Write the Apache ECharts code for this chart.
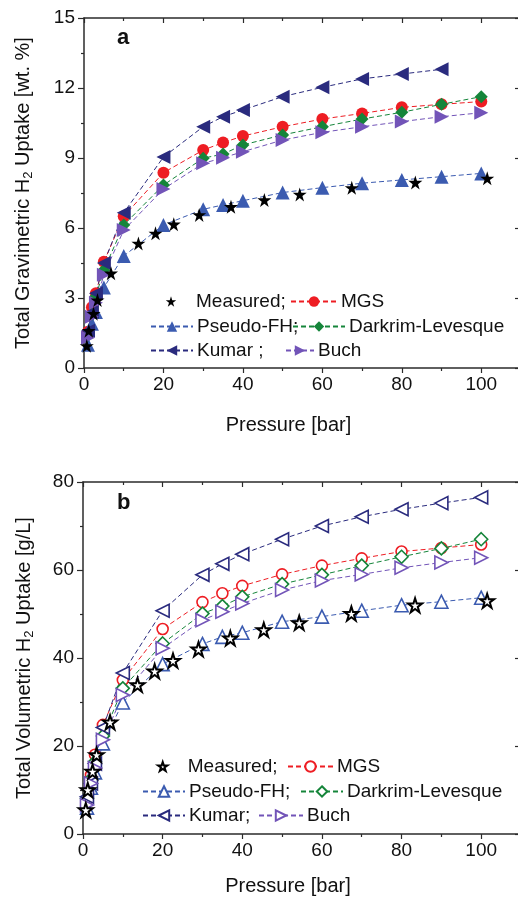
<!DOCTYPE html>
<html>
<head>
<meta charset="utf-8">
<script src="https://cdn.jsdelivr.net/npm/echarts@6/dist/echarts.min.js"></script>
<style>
html,body{margin:0;padding:0;background:#fff;}
#chart{width:518px;height:897px;}
</style>
</head>
<body>
<div id="chart"></div>
<script>
// ---------- data ----------
const pressureMeasured = [0.7, 1.2, 2.4, 3.4, 6.8, 13.7, 18, 22.6, 29, 37, 45.4, 54.3, 67.4, 83.4, 101.5];
const pressureModel = [1, 2, 3, 5, 10, 20, 30, 35, 40, 50, 60, 70, 80, 90, 100];
const pressureKumarA = [1, 2, 3, 5, 10, 20, 30, 35, 40, 50, 60, 70, 80, 90];

// panel a: gravimetric uptake [wt. %]
const measuredA = [0.95, 1.6, 2.33, 2.91, 4.06, 5.34, 5.77, 6.16, 6.56, 6.91, 7.2, 7.44, 7.72, 7.95, 8.13];
const mgsA = [1.55, 2.6, 3.2, 4.55, 6.5, 8.37, 9.34, 9.66, 9.94, 10.34, 10.67, 10.91, 11.17, 11.3, 11.42];
const pseudoFHA = [1.0, 1.9, 2.4, 3.45, 4.8, 6.13, 6.8, 6.99, 7.17, 7.52, 7.73, 7.92, 8.06, 8.2, 8.34];
const darkrimA = [1.4, 2.3, 3.08, 4.2, 6.13, 7.84, 8.99, 9.17, 9.56, 9.99, 10.34, 10.67, 10.96, 11.3, 11.63];
const kumarA = [1.6, 2.4, 3.2, 4.5, 6.65, 9.04, 10.34, 10.77, 11.06, 11.63, 12.03, 12.39, 12.6, 12.8];
const buchA = [1.3, 2.2, 2.8, 4.0, 5.91, 7.67, 8.77, 9.01, 9.27, 9.77, 10.1, 10.34, 10.56, 10.77, 10.94];

// panel b: volumetric uptake [g/L]
const measuredB = [5.45, 10.0, 14.2, 18.0, 25.4, 33.9, 37.0, 39.4, 42.0, 44.5, 46.4, 48.0, 50.1, 52.0, 53.0];
const mgsB = [7.7, 13.4, 18.0, 24.8, 35.0, 46.6, 52.7, 54.7, 56.4, 59.0, 61.0, 62.65, 64.2, 65.0, 65.8];
const pseudoFHB = [6.0, 10.5, 14.0, 20.6, 29.9, 38.6, 43.2, 44.8, 45.75, 48.25, 49.4, 50.75, 52.0, 52.8, 53.7];
const darkrimB = [8.1, 12.5, 16.4, 22.3, 33.1, 43.3, 50.1, 51.8, 53.9, 56.8, 58.9, 61.0, 63.0, 64.9, 67.0];
const kumarB = [8.5, 11.5, 16.0, 24.2, 36.6, 50.75, 58.9, 61.4, 63.6, 67.0, 70.0, 72.1, 73.8, 75.2, 76.5];
const buchB = [6.6, 11.5, 15.0, 21.4, 31.6, 42.2, 48.6, 50.5, 52.4, 55.45, 57.6, 59.0, 60.5, 61.7, 62.8];

// axis ticks
const xTicks = [0, 20, 40, 60, 80, 100];
const yTicksA = [0, 3, 6, 9, 12, 15];
const yTicksB = [0, 20, 40, 60, 80];

// ---------- styling ----------
const FONT = 'Liberation Sans, Arial, Helvetica, sans-serif';
const AX = '#2b2b2b';
const C = {mgs:'#ee1d23', pfh:'#3b5bb0', dark:'#15853a', kumar:'#2a2b7e', buch:'#7254b8', meas:'#000000'};
const STAR = 'path://M50,0 L61.2,34.5 L97.6,34.5 L68.2,55.9 L79.4,90.5 L50,69.1 L20.6,90.5 L31.8,55.9 L2.4,34.5 L38.8,34.5 Z';
const TRI_L = 'path://M0,50 L100,0 L100,100 Z';
const TRI_R = 'path://M100,50 L0,0 L0,100 Z';

function pairs(xs, ys){ return ys.map((y,i)=>[xs[i], y]); }

const labelMap = {
  'mA':'Measured;', 'gA':'MGS', 'pA':'Pseudo-FH;', 'dA':'Darkrim-Levesque', 'kA':'Kumar ;', 'bA':'Buch',
  'mB':'Measured;', 'gB':'MGS', 'pB':'Pseudo-FH;', 'dB':'Darkrim-Levesque', 'kB':'Kumar;', 'bB':'Buch'
};

function series(name, xs, ys, gi, symbol, size, color, hollow, isMeasured){
  return {
    name, type:'line', xAxisIndex: gi*2, yAxisIndex: gi*2,
    data: pairs(xs, ys), symbol, symbolSize: size, showAllSymbol:true,
    lineStyle: isMeasured ? {width:0, opacity:0} : {width:1, type:[5,3], color},
    itemStyle: hollow ? {color:'#ffffff', borderColor:color, borderWidth: isMeasured?2:1.6}
                      : {color, borderColor: isMeasured? '#000': color, borderWidth: 0},
    z: isMeasured ? 5 : 3,
    animation:false
  };
}

const XMAX = 110;

function xAxes(gi){
  const base = {gridIndex:gi, type:'value', min:0, max:XMAX, interval:20, splitLine:{show:false},
    axisLine:{onZero:false, lineStyle:{color:AX, width:1.5}}};
  return [
    Object.assign({}, base, {position:'bottom',
      axisTick:{inside:false, length:5, lineStyle:{color:AX, width:1.2}},
      minorTick:{show:true, splitNumber:2, length:3, lineStyle:{color:AX, width:1.2}},
      axisLabel:{fontSize:19, fontFamily:FONT, color:'#111', margin:7,
        formatter: v => xTicks.indexOf(v) >= 0 ? String(v) : ''},
      name:'Pressure [bar]', nameLocation:'middle', nameGap: gi===0?47:42,
      nameTextStyle:{fontSize:20, fontFamily:FONT, color:'#111', padding:[0,28,0,0]}}),
    Object.assign({}, base, {position:'top',
      axisTick:{inside:true, length:5, lineStyle:{color:AX, width:1.2}},
      minorTick:{show:true, splitNumber:2, length:3, lineStyle:{color:AX, width:1.2}},
      axisLabel:{show:false}})
  ];
}
function yAxes(gi, max, interval, ticks, name){
  const base = {gridIndex:gi, type:'value', min:0, max, interval, splitLine:{show:false},
    axisLine:{onZero:false, lineStyle:{color:AX, width:1.5}}};
  return [
    Object.assign({}, base, {position:'left',
      axisTick:{inside:false, length:6, lineStyle:{color:AX, width:1.2}},
      minorTick:{show:true, splitNumber:2, length:3, lineStyle:{color:AX, width:1.2}},
      axisLabel:{fontSize:19, fontFamily:FONT, color:'#111', margin:9,
        formatter: v => ticks.indexOf(v) >= 0 ? String(v) : ''},
      name, nameLocation:'middle', nameGap: gi===0?49:47,
      nameTextStyle:{fontSize:20, fontFamily:FONT, color:'#111',
        rich:{s:{fontSize:13, fontFamily:FONT, color:'#111', padding:[11,0,0,0]}}}}),
    Object.assign({}, base, {position:'right',
      axisTick:{inside:true, length:6, lineStyle:{color:AX, width:1.2}},
      minorTick:{show:true, splitNumber:2, length:3, lineStyle:{color:AX, width:1.2}},
      axisLabel:{show:false}})
  ];
}

function leg(name, left, centerY, itemWidth, icon, itemHeight){
  const h = itemHeight || 13;
  return {
    data:[icon ? {name, icon} : name], left, top: centerY - 11, itemWidth, itemHeight:h, padding:0,
    selectedMode:false, formatter: n => labelMap[n],
    textStyle:{fontSize:19, fontFamily:FONT, color:'#111', padding:[0,0,0,-1]}
  };
}

const option = {
  animation:false,
  backgroundColor:'#ffffff',
  grid:[
    {left:84, top:18, right:-3, height:350, outerBoundsMode:'none', containLabel:false},
    {left:83, top:482, right:-3, height:352, outerBoundsMode:'none', containLabel:false}
  ],
  xAxis:[...xAxes(0), ...xAxes(1)],
  yAxis:[
    ...yAxes(0, 15, 3, yTicksA, 'Total Gravimetric H{s|2} Uptake [wt. %]'),
    ...yAxes(1, 80, 20, yTicksB, 'Total Volumetric H{s|2} Uptake [g/L]')
  ],
  legend:[
    leg('mA', 150, 303, 42), leg('gA', 290, 303, 46),
    leg('pA', 150, 328, 42), leg('dA', 292, 328, 52),
    leg('kA', 150, 352, 42), leg('bA', 285, 352, 28),
    leg('mB', 157, 768, 42, STAR, 9), leg('gB', 287, 768, 45),
    leg('pB', 142, 793, 42), leg('dB', 300, 793, 42),
    leg('kB', 142, 817, 42), leg('bB', 258, 817, 44)
  ],
  graphic:[
    {type:'text', left:117, top:27, style:{text:'a', font:'bold 22px '+FONT, fill:'#111'}},
    {type:'text', left:117, top:492, style:{text:'b', font:'bold 22px '+FONT, fill:'#111'}}
  ],
  series:[
    series('gA', pressureModel, mgsA, 0, 'circle', 12, C.mgs, false),
    series('pA', pressureModel, pseudoFHA, 0, 'triangle', 14, C.pfh, false),
    series('dA', pressureModel, darkrimA, 0, 'diamond', 13, C.dark, false),
    series('kA', pressureKumarA, kumarA, 0, TRI_L, 14, C.kumar, false),
    series('bA', pressureModel, buchA, 0, TRI_R, 14, C.buch, false),
    series('mA', pressureMeasured, measuredA, 0, STAR, 14, C.meas, false, true),

    series('gB', pressureModel, mgsB, 1, 'circle', 11, C.mgs, true),
    series('pB', pressureModel, pseudoFHB, 1, 'triangle', 13, C.pfh, true),
    series('dB', pressureModel, darkrimB, 1, 'diamond', 13, C.dark, true),
    series('kB', pressureModel, kumarB, 1, TRI_L, 13, C.kumar, true),
    series('bB', pressureModel, buchB, 1, TRI_R, 13, C.buch, true),
    series('mB', pressureMeasured, measuredB, 1, STAR, 14, C.meas, true, true)
  ]
};

const chart = echarts.init(document.getElementById('chart'), null, {renderer:'canvas'});
chart.setOption(option);
</script>
</body>
</html>
